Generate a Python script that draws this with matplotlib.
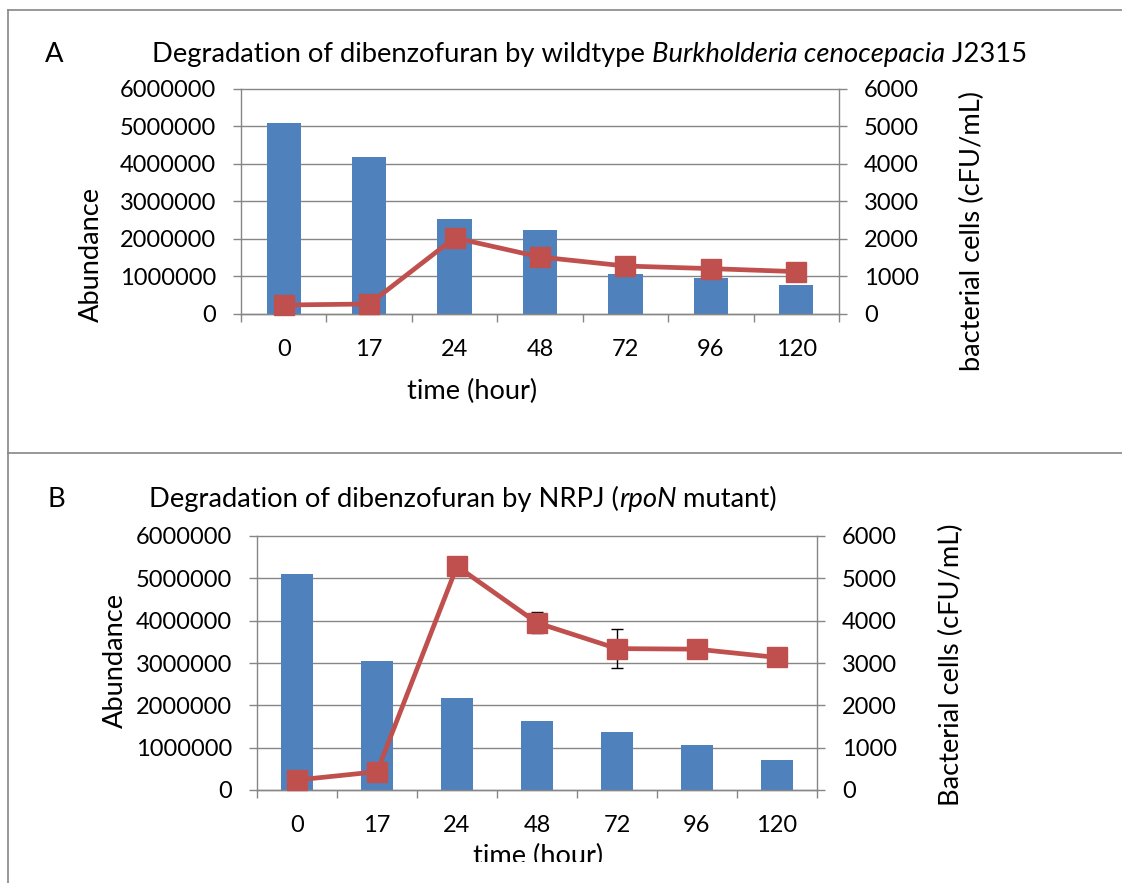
import numpy as np
import matplotlib
matplotlib.use("Agg")
import matplotlib.pyplot as plt
from matplotlib.patches import Rectangle
from matplotlib.lines import Line2D

plt.rcParams['font.family'] = ['Lato', 'DejaVu Sans']

# ---- data -------------------------------------------------------------
hours = ['0', '17', '24', '48', '72', '96', '120']

abund_wt = [5100000, 4190000, 2530000, 2240000, 1070000, 950000, 770000]
cells_wt = [240, 267, 2030, 1520, 1280, 1210, 1130]

abund_mut = [5100000, 3050000, 2170000, 1630000, 1360000, 1070000, 710000]
cells_mut = [236, 432, 5285, 3950, 3340, 3327, 3131]
cells_mut_err = [0, 0, 0, 250, 460, 0, 0]

abund_ticks = [0, 1000000, 2000000, 3000000, 4000000, 5000000, 6000000]
cell_ticks = [0, 1000, 2000, 3000, 4000, 5000, 6000]

# ---- style ------------------------------------------------------------
W, H = 1122, 883
BLUE = '#4F81BD'
RED = '#C0504D'
GRID = '#868686'
FS_TICK = 17.0
FS_LABEL = 19.6
FS_TITLE = 19.7

fig = plt.figure(figsize=(W / 100, H / 100), dpi=100)
fig.patch.set_facecolor('white')


def fx(px):
    return px / W


def fy(py):
    return 1 - py / H


def axes_rect(left, right, top, bottom):
    return [fx(left), fy(bottom), (right - left) / W, (bottom - top) / H]


def rich_text(x_px, y_px, parts, size):
    """Lay out text runs with mixed styles along one baseline."""
    renderer = fig.canvas.get_renderer()
    x = x_px
    for s, style in parts:
        fig.text(fx(x), fy(y_px), s, fontsize=size, style=style,
                 ha='left', va='baseline')
        a = fig.text(0, 0, '|' + s + '|', fontsize=size, style=style)
        b = fig.text(0, 0, '||', fontsize=size, style=style)
        wa = a.get_window_extent(renderer).width
        wb = b.get_window_extent(renderer).width
        a.remove()
        b.remove()
        x += wa - wb


def panel(rect, abund, cells, err):
    ax = fig.add_axes(rect)
    x = np.arange(len(hours))
    ax.bar(x, abund, width=0.4, color=BLUE, zorder=2)
    ax.set_xlim(-0.5, len(hours) - 0.5)
    ax.set_ylim(0, 6000000)
    ax.set_yticks(abund_ticks)
    ax.set_yticklabels([str(v) for v in abund_ticks], fontsize=FS_TICK)
    ax.yaxis.grid(True, color=GRID, lw=1.0)
    for gl in ax.get_ygridlines():
        gl.set_clip_on(False)
    ax.set_axisbelow(True)

    ax.set_xticks(np.arange(-0.5, len(hours), 1.0))
    ax.set_xticklabels([])
    ax.set_xticks(x, minor=True)
    ax.set_xticklabels(hours, minor=True, fontsize=FS_TICK)
    ax.tick_params(axis='x', which='major', length=6, width=1.0,
                   color=GRID, direction='out')
    ax.tick_params(axis='x', which='minor', length=0, pad=18)
    ax.tick_params(axis='y', length=6, width=1.0, color=GRID,
                   direction='out', pad=12)

    for side in ('top', 'right'):
        ax.spines[side].set_visible(False)
    for side in ('left', 'bottom'):
        ax.spines[side].set_color(GRID)
        ax.spines[side].set_linewidth(1.0)

    ax2 = ax.twinx()
    ax2.set_ylim(0, 6000)
    ax2.set_yticks(cell_ticks)
    ax2.set_yticklabels([str(v) for v in cell_ticks], fontsize=FS_TICK)
    ax2.tick_params(axis='y', length=6, width=1.0, color=GRID,
                    direction='out', pad=12)
    for side in ('top', 'left', 'bottom'):
        ax2.spines[side].set_visible(False)
    ax2.spines['right'].set_color(GRID)
    ax2.spines['right'].set_linewidth(1.0)

    if err is not None:
        ax2.errorbar(x, cells, yerr=err, fmt='none', ecolor='black',
                     elinewidth=1.0, capsize=4.2, capthick=1.0, zorder=2)
    ax2.plot(x, cells, color=RED, lw=3.4, marker='s', markersize=14,
             markerfacecolor=RED, markeredgecolor=RED, zorder=3,
             clip_on=False)
    return ax, ax2


# ---- panel A ----------------------------------------------------------
panel(axes_rect(241, 839, 89, 314), abund_wt, cells_wt, None)
fig.text(fx(45), fy(62), 'A', fontsize=FS_TITLE, ha='left', va='baseline')
rich_text(152, 62, [('Degradation of dibenzofuran by wildtype ', 'normal'),
                    ('Burkholderia cenocepacia', 'italic'),
                    (' J2315', 'normal')], FS_TITLE)
fig.text(fx(91), fy(254), 'Abundance', fontsize=FS_LABEL, rotation=90,
         ha='center', va='center')
fig.text(fx(972), fy(231), 'bacterial cells (cFU/mL)', fontsize=FS_LABEL,
         rotation=90, ha='center', va='center')
fig.text(fx(472), fy(399), 'time (hour)', fontsize=FS_LABEL,
         ha='center', va='baseline')

# ---- panel B ----------------------------------------------------------
panel(axes_rect(257, 817, 536, 790), abund_mut, cells_mut, cells_mut_err)
fig.text(fx(48), fy(507), 'B', fontsize=FS_TITLE, ha='left', va='baseline')
rich_text(149, 507, [('Degradation of dibenzofuran by NRPJ (', 'normal'),
                     ('rpoN', 'italic'),
                     (' mutant)', 'normal')], FS_TITLE)
fig.text(fx(115), fy(660), 'Abundance', fontsize=FS_LABEL, rotation=90,
         ha='center', va='center')
fig.text(fx(951), fy(665), 'Bacterial cells (cFU/mL)', fontsize=FS_LABEL,
         rotation=90, ha='center', va='center')
fig.text(fx(538), fy(864), 'time (hour)', fontsize=FS_LABEL,
         ha='center', va='baseline')

# lower edge of the second chart frame cuts its axis title
fig.patches.append(Rectangle((fx(9), 0), 1 - fx(9), fy(862), transform=fig.transFigure,
                             facecolor='white', edgecolor='none', zorder=10))

# frame lines around the two charts
for xs, ys in [((8, W), (10, 10)), ((8, W), (453, 453)), ((8, 8), (10, H))]:
    fig.lines.append(Line2D([fx(v) for v in xs], [fy(v) for v in ys],
                            transform=fig.transFigure, color=GRID, lw=1.2,
                            zorder=11))

fig.savefig('out.png', dpi=100, facecolor='white')
